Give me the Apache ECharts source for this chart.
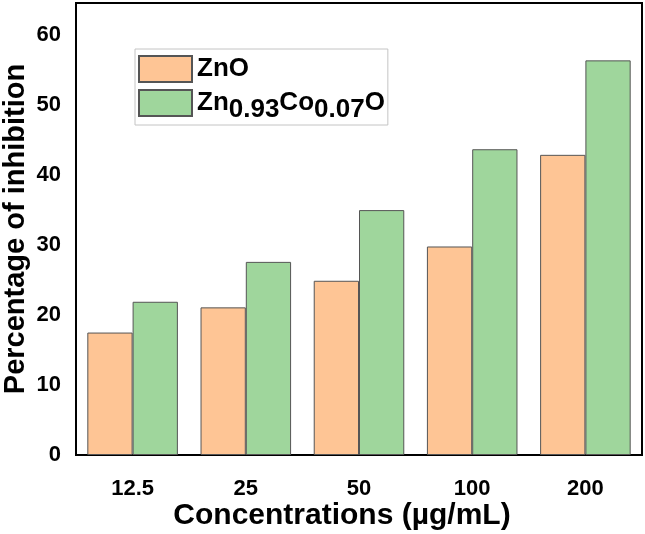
<!DOCTYPE html>
<html>
<head>
<meta charset="utf-8">
<script src="https://cdn.jsdelivr.net/npm/echarts@6/dist/echarts.min.js"></script>
<style>
html,body{margin:0;padding:0;background:#fff;}
#chart{width:645px;height:534px;}
</style>
</head>
<body>
<div id="chart"></div>
<script>
const categories = ['12.5', '25', '50', '100', '200'];
const seriesNames = ['ZnO', 'Zn0.93Co0.07O'];
const znoValues = [17.5, 21.1, 24.9, 29.8, 42.9];
const coValues = [21.9, 27.6, 35.0, 43.7, 56.4];
const yTicks = [0, 10, 20, 30, 40, 50, 60];

const chart = echarts.init(document.getElementById('chart'));
const font = '"Liberation Sans", Arial, sans-serif';
chart.setOption({
  animation: false,
  backgroundColor: '#fff',
  textStyle: { fontFamily: font },
  grid: {
    left: 76, right: 3, top: 3, bottom: 79,
    outerBoundsMode: 'none',
    containLabel: false,
    show: true, borderColor: '#000', borderWidth: 2
  },
  legend: {
    orient: 'vertical',
    left: 135, top: 49,
    padding: [6, 3, 2, 3],
    itemWidth: 53, itemHeight: 26, itemGap: 0,
    icon: 'rect',
    borderColor: '#c4c4c4', borderWidth: 1,
    data: seriesNames,
    formatter: function (name) {
      if (name === seriesNames[1]) {
        return '{a|Zn}{s|0.93}{a|Co}{s|0.07}{a|O}';
      }
      return '{p|' + name + '}';
    },
    textStyle: {
      fontFamily: font, fontWeight: 'bold', fontSize: 26, color: '#000',
      rich: {
        p: { fontFamily: font, fontWeight: 'bold', fontSize: 26, lineHeight: 26, color: '#000' },
        a: { fontFamily: font, fontWeight: 'bold', fontSize: 26, lineHeight: 26, padding: [7, 0, 7, 0], color: '#000' },
        s: { fontFamily: font, fontWeight: 'bold', fontSize: 26, lineHeight: 26, padding: [14, 0, 0, 0], color: '#000' }
      }
    }
  },
  xAxis: {
    type: 'category',
    data: categories,
    name: 'Concentrations (\u00b5g/mL)',
    nameLocation: 'middle',
    nameGap: 46,
    nameMoveOverlap: false,
    nameTextStyle: { fontFamily: font, fontWeight: 'bold', fontSize: 30, color: '#000', padding: [0, 34, 0, 0] },
    axisLine: { lineStyle: { color: '#000', width: 2 } },
    axisTick: { show: false },
    axisLabel: { margin: 23, fontFamily: font, fontWeight: 'bold', fontSize: 22, color: '#000' }
  },
  yAxis: {
    type: 'value',
    min: yTicks[0],
    max: 64.6,
    interval: yTicks[1] - yTicks[0],
    name: 'Percentage of inhibition',
    nameLocation: 'middle',
    nameGap: 46,
    nameMoveOverlap: false,
    nameRotate: 90,
    nameTextStyle: { fontFamily: font, fontWeight: 'bold', fontSize: 29, color: '#000' },
    axisLine: { show: true, lineStyle: { color: '#000', width: 2 } },
    axisTick: { show: false },
    splitLine: { show: false },
    axisLabel: {
      margin: 15, fontFamily: font, fontWeight: 'bold', fontSize: 22, color: '#000',
      showMaxLabel: false,
      formatter: function (v) { return yTicks.indexOf(v) >= 0 ? String(v) : ''; }
    }
  },
  series: [
    {
      name: seriesNames[0], type: 'bar', data: znoValues,
      barGap: '0%', barCategoryGap: '20%',
      itemStyle: { color: '#FEC595', borderColor: '#555', borderWidth: 1 }
    },
    {
      name: seriesNames[1], type: 'bar', data: coValues,
      barGap: '0%', barCategoryGap: '20%',
      itemStyle: { color: '#9FD69C', borderColor: '#555', borderWidth: 1 }
    }
  ]
});
</script>
</body>
</html>
